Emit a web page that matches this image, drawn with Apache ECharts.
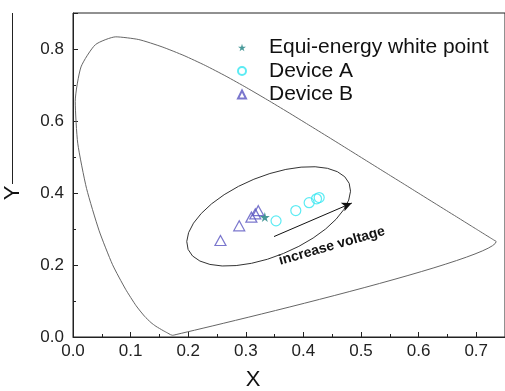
<!DOCTYPE html>
<html>
<head>
<meta charset="utf-8">
<script src="https://cdn.jsdelivr.net/npm/echarts@6/dist/echarts.min.js"></script>
<style>html,body{margin:0;padding:0;background:#fff;}#c{width:505px;height:391px;}</style>
</head>
<body>
<div id="c"></div>
<script>
// CIE 1931 spectral locus (x, y)
var locus = [
[0.1741,0.0050],[0.1738,0.0049],[0.1733,0.0048],[0.1726,0.0048],[0.1714,0.0051],[0.1689,0.0069],
[0.1644,0.0109],[0.1566,0.0177],[0.1440,0.0297],[0.1355,0.0399],[0.1241,0.0578],[0.1096,0.0868],
[0.0913,0.1327],[0.0687,0.2007],[0.0454,0.2950],[0.0235,0.4127],[0.0082,0.5384],[0.0039,0.6548],
[0.0139,0.7502],[0.0389,0.8120],[0.0743,0.8338],[0.1142,0.8262],[0.1547,0.8059],[0.1929,0.7816],
[0.2296,0.7543],[0.2658,0.7243],[0.3016,0.6923],[0.3373,0.6589],[0.3731,0.6245],[0.4087,0.5896],
[0.4441,0.5547],[0.4788,0.5202],[0.5125,0.4866],[0.5448,0.4544],[0.5752,0.4242],[0.6029,0.3965],
[0.6270,0.3725],[0.6482,0.3514],[0.6658,0.3340],[0.6801,0.3197],[0.6915,0.3083],[0.7006,0.2993],
[0.7079,0.2920],[0.7140,0.2859],[0.7190,0.2809],[0.7260,0.2740],[0.7300,0.2700],[0.7347,0.2653],
[0.1741,0.0050]
];
// ellipse outline
var ellipse = [
[0.4795,0.4268],[0.4818,0.4049],[0.4787,0.3803],[0.4702,0.3540],[0.4567,0.3270],[0.4387,0.3002],
[0.4169,0.2749],[0.3921,0.2518],[0.3653,0.2320],[0.3376,0.2160],[0.3099,0.2047],[0.2833,0.1984],
[0.2590,0.1973],[0.2377,0.2016],[0.2203,0.2110],[0.2075,0.2251],[0.1998,0.2434],[0.1975,0.2653],
[0.2007,0.2899],[0.2092,0.3162],[0.2227,0.3432],[0.2406,0.3699],[0.2624,0.3953],[0.2872,0.4184],
[0.3140,0.4382],[0.3418,0.4541],[0.3695,0.4655],[0.3960,0.4718],[0.4204,0.4729],[0.4417,0.4686],
[0.4590,0.4592],[0.4718,0.4451],[0.4795,0.4268]
];
var whitePoint = [[0.333,0.333]];
var deviceA = [[0.3525,0.3226],[0.3868,0.3512],[0.4100,0.3730],[0.4228,0.3838],[0.4274,0.3874]];
var deviceB = [[0.2560,0.2680],[0.2886,0.3087],[0.3097,0.3330],[0.3165,0.3420],[0.3217,0.3510]];
var arrowFrom = [0.349,0.279];
var arrowTo = [0.484,0.372];
var xTicks = {min:0, max:0.75, interval:0.1};
var yTicks = {min:0, max:0.9, interval:0.2};

var starPath = 'path://M50,0 L61,35 L98,35 L68,57 L79,91 L50,70 L21,91 L32,57 L2,35 L39,35 Z';
var font = '"Liberation Sans", Arial, sans-serif';

var chart = echarts.init(document.getElementById('c'), null, {renderer:'canvas'});
chart.setOption({
  animation:false,
  backgroundColor:'#fff',
  grid:{left:73, top:13, right:-6, bottom:54, show:true, borderColor:'#222', borderWidth:1},
  legend:{
    orient:'vertical', left:232, top:32, itemGap:2.5, itemWidth:8, itemHeight:8,
    data:['Equi-energy white point','Device A','Device B'],
    textStyle:{fontFamily:font, fontSize:21, color:'#111', padding:[0,0,0,18]}
  },
  xAxis:{
    type:'value', min:xTicks.min, max:xTicks.max, interval:xTicks.interval,
    splitLine:{show:false},
    axisLine:{lineStyle:{color:'#222', width:1}},
    axisTick:{inside:true, length:5, lineStyle:{color:'#222'}},
    minorTick:{show:true, splitNumber:2, length:3, lineStyle:{color:'#222'}},
    axisLabel:{fontFamily:font, fontSize:17, color:'#222', margin:6, showMaxLabel:false,
      formatter:function(v){return v.toFixed(1);}}
  },
  yAxis:{
    type:'value', min:yTicks.min, max:yTicks.max, interval:yTicks.interval,
    splitLine:{show:false},
    axisLine:{lineStyle:{color:'#222', width:1}},
    axisTick:{inside:true, length:5, lineStyle:{color:'#222'}},
    minorTick:{show:true, splitNumber:2, length:3, lineStyle:{color:'#222'}},
    axisLabel:{fontFamily:font, fontSize:17, color:'#222', margin:9, showMaxLabel:false,
      formatter:function(v){return v.toFixed(1);}}
  },
  graphic:[
    {type:'line', shape:{x1:12.5,y1:13,x2:12.5,y2:184}, style:{stroke:'#222', lineWidth:1}},
    {type:'text', x:13, y:193, rotation:Math.PI/2, style:{text:'Y', font:'22px '+font, fill:'#111', textAlign:'center', textVerticalAlign:'middle'}},
    {type:'text', x:253, y:380, style:{text:'X', font:'22px '+font, fill:'#111', textAlign:'center', textVerticalAlign:'middle'}},
    {type:'text', x:332, y:246, rotation:16*Math.PI/180, style:{text:'increase voltage', font:'bold 14px '+font, fill:'#111', textAlign:'center', textVerticalAlign:'middle'}}
  ],
  series:[
    {name:'locus', type:'line', data:locus, showSymbol:false, symbol:'none', smooth:0.2,
     lineStyle:{color:'#666', width:1}, z:2, silent:true},
    {name:'ellipse', type:'line', data:ellipse, showSymbol:false, symbol:'none', smooth:false,
     lineStyle:{color:'#333', width:1}, z:2, silent:true,
     markLine:{silent:true, symbol:['none','arrow'], symbolSize:[7,10],
       lineStyle:{color:'#111', width:1, type:'solid'}, label:{show:false},
       data:[[{coord:arrowFrom},{coord:arrowTo}]]}},
    {name:'Equi-energy white point', type:'scatter', data:whitePoint, symbol:starPath, symbolSize:10,
     itemStyle:{color:'#1a8080'}, z:5},
    {name:'Device A', type:'scatter', data:deviceA, symbol:'circle', symbolSize:10,
     itemStyle:{color:'rgba(0,0,0,0)', borderColor:'#33e6f0', borderWidth:1.2}, z:4},
    {name:'Device B', type:'scatter', data:deviceB, symbol:'triangle', symbolSize:[11,10],
     itemStyle:{color:'rgba(0,0,0,0)', borderColor:'#5a55c0', borderWidth:1.2}, z:4}
  ]
});
</script>
</body>
</html>
